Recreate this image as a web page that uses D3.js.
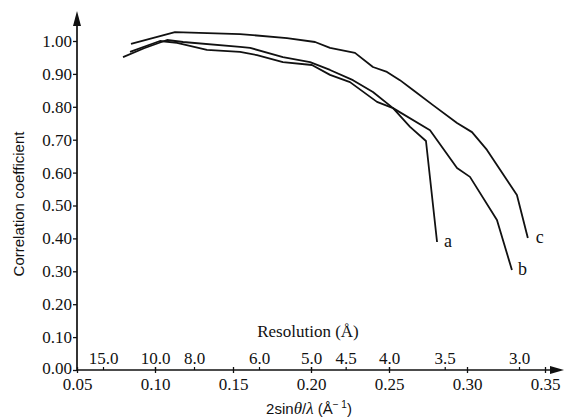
<!DOCTYPE html>
<html>
<head>
<meta charset="utf-8">
<script src="https://cdn.jsdelivr.net/npm/d3@7"></script>
<style>
  body { margin: 0; background: #fff; }
  svg { display: block; }
</style>
</head>
<body>
<div class="chart"></div>
<script>
// data: x = 2sin(theta)/lambda, y = correlation coefficient
var curveA_x = [0.0795, 0.093, 0.1077, 0.118, 0.1545, 0.161, 0.182, 0.1994, 0.2122, 0.2269, 0.2397, 0.2526, 0.2635, 0.2737, 0.2808];
var curveA_y = [0.951, 0.978, 1.003, 0.997, 0.982, 0.979, 0.951, 0.936, 0.912, 0.881, 0.845, 0.796, 0.739, 0.696, 0.389];

var curveB_x = [0.084, 0.1032, 0.1141, 0.1333, 0.1545, 0.1654, 0.182, 0.2006, 0.2122, 0.225, 0.2423, 0.2526, 0.2763, 0.2936, 0.3019, 0.3192, 0.3288];
var curveB_y = [0.967, 1.0, 0.994, 0.973, 0.967, 0.957, 0.936, 0.927, 0.897, 0.875, 0.815, 0.796, 0.729, 0.614, 0.587, 0.456, 0.304];

var curveC_x = [0.0846, 0.1128, 0.1545, 0.1846, 0.2026, 0.2122, 0.2282, 0.2397, 0.2487, 0.257, 0.2654, 0.2782, 0.2936, 0.3032, 0.3128, 0.332, 0.339];
var curveC_y = [0.991, 1.027, 1.021, 1.009, 0.997, 0.979, 0.964, 0.921, 0.906, 0.881, 0.851, 0.805, 0.751, 0.723, 0.669, 0.532, 0.401];

var curveNames = ["a", "b", "c"];

var xTicks = [0.05, 0.10, 0.15, 0.20, 0.25, 0.30, 0.35];
var yTicks = [0.0, 0.1, 0.2, 0.3, 0.4, 0.5, 0.6, 0.7, 0.8, 0.9, 1.0];
var resolutionTicks = [15.0, 10.0, 8.0, 6.0, 5.0, 4.5, 4.0, 3.5, 3.0];

var svgWidth = 564, svgHeight = 418;

var svg = d3.select(".chart").append("svg")
  .attr("width", svgWidth)
  .attr("height", svgHeight);

var x = d3.scaleLinear().domain([0.05, 0.35]).range([77, 545]);
var y = d3.scaleLinear().domain([0, 1]).range([370, 41]);

var ink = "#111";
var serif = "'Liberation Serif', 'Times New Roman', serif";
var sans = "'Liberation Sans', Arial, sans-serif";

// y axis
var yAxis = svg.append("g")
  .attr("transform", "translate(" + x(0.05) + ",0)")
  .call(d3.axisLeft(y).tickValues(yTicks).tickFormat(d3.format(".2f")).tickSize(4).tickPadding(1));
yAxis.select(".domain").remove();
yAxis.selectAll("line").attr("stroke", ink).attr("stroke-width", 1.3);
yAxis.selectAll("text").attr("font-family", serif).attr("font-size", 17).attr("fill", ink)
  .attr("dy", function(d) { return d === 0 ? "0.2em" : "0.32em"; });

// x axis (ticks both sides)
var xAxis = svg.append("g")
  .attr("transform", "translate(0," + y(0) + ")")
  .call(d3.axisBottom(x).tickValues(xTicks).tickFormat(d3.format(".2f")).tickSize(3).tickPadding(5));
xAxis.select(".domain").remove();
xAxis.selectAll("line").attr("stroke", ink).attr("stroke-width", 1.3).attr("y1", -3);
xAxis.selectAll("text").attr("font-family", serif).attr("font-size", 17).attr("fill", ink);

// resolution axis along the top of the x axis
var resAxis = svg.append("g")
  .attr("transform", "translate(0," + y(0) + ")")
  .call(d3.axisTop(x).tickValues(resolutionTicks.map(function(d) { return 1 / d; }))
    .tickFormat(function(d) { return d3.format(".1f")(1 / d); })
    .tickSize(3).tickPadding(3));
resAxis.select(".domain").remove();
resAxis.selectAll("line").attr("stroke", ink).attr("stroke-width", 1.2);
resAxis.selectAll("text").attr("font-family", serif).attr("font-size", 17).attr("fill", ink);

// axis lines with arrows
svg.append("line")
  .attr("x1", x(0.05)).attr("y1", y(0)).attr("x2", x(0.05)).attr("y2", 20)
  .attr("stroke", ink).attr("stroke-width", 1.7);
svg.append("path")
  .attr("d", "M" + x(0.05) + ",11 L" + (x(0.05) - 4) + ",26 L" + (x(0.05) + 4) + ",26 Z")
  .attr("fill", ink);

svg.append("line")
  .attr("x1", x(0.05)).attr("y1", y(0)).attr("x2", 556).attr("y2", y(0))
  .attr("stroke", ink).attr("stroke-width", 1.7);
svg.append("path")
  .attr("d", "M564," + y(0) + " L550," + (y(0) - 4) + " L550," + (y(0) + 4) + " Z")
  .attr("fill", ink);

// curves
var line = d3.line()
  .x(function(d) { return x(d[0]); })
  .y(function(d) { return y(d[1]); });

var curves = [
  d3.zip(curveA_x, curveA_y),
  d3.zip(curveB_x, curveB_y),
  d3.zip(curveC_x, curveC_y)
];
var labelOffset = [[7, 5], [6, 5], [8, 5]];

curves.forEach(function(pts, i) {
  svg.append("path")
    .datum(pts)
    .attr("d", line)
    .attr("fill", "none")
    .attr("stroke", ink)
    .attr("stroke-width", 1.8)
    .attr("stroke-linejoin", "round");

  var last = pts[pts.length - 1];
  svg.append("text")
    .attr("x", x(last[0]) + labelOffset[i][0])
    .attr("y", y(last[1]) + labelOffset[i][1])
    .attr("font-family", serif)
    .attr("font-size", 18)
    .attr("fill", ink)
    .text(curveNames[i]);
});

// titles
svg.append("text")
  .attr("transform", "translate(24," + 204 + ") rotate(-90)")
  .attr("text-anchor", "middle")
  .attr("font-family", sans)
  .attr("font-size", 15)
  .attr("fill", ink)
  .text("Correlation coefficient");

svg.append("text")
  .attr("x", 308)
  .attr("y", 337)
  .attr("text-anchor", "middle")
  .attr("font-family", serif)
  .attr("font-size", 17)
  .attr("fill", ink)
  .text("Resolution (Å)");

var xTitle = svg.append("text")
  .attr("x", 309)
  .attr("y", 414)
  .attr("text-anchor", "middle")
  .attr("font-family", sans)
  .attr("font-size", 15)
  .attr("fill", ink);
xTitle.append("tspan").text("2sin");
xTitle.append("tspan").attr("font-style", "italic").attr("font-family", serif).attr("font-size", 17).text("θ");
xTitle.append("tspan").text("/");
xTitle.append("tspan").attr("font-style", "italic").attr("font-family", serif).attr("font-size", 17).text("λ");
xTitle.append("tspan").text("  (Å");
xTitle.append("tspan").attr("font-size", 10).attr("dy", -6).text("− 1");
xTitle.append("tspan").attr("dy", 6).text(")");
</script>
</body>
</html>
